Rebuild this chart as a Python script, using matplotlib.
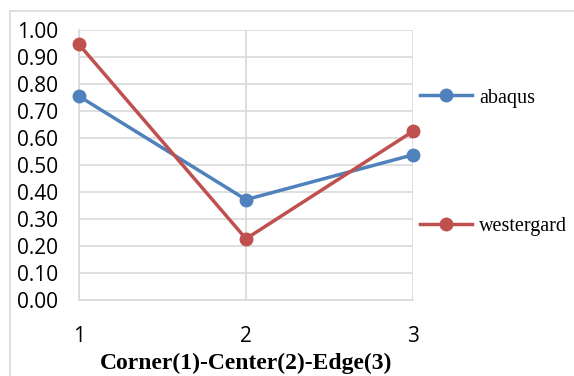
import matplotlib.pyplot as plt
from matplotlib.patches import Rectangle

positions = [1, 2, 3]
abaqus = [0.755, 0.372, 0.538]
westergard = [0.947, 0.227, 0.625]
y_ticks = [0.0, 0.1, 0.2, 0.3, 0.4, 0.5, 0.6, 0.7, 0.8, 0.9, 1.0]

fig = plt.figure(figsize=(5.74, 3.76), dpi=100)
ax = fig.add_axes([0.1376, 0.202, 0.5819, 0.718])

grid_col = '#d9d9d9'
ax.plot(positions, abaqus, color='#4f81bd', lw=2.5, marker='o', ms=9,
        label='abaqus', clip_on=False, zorder=3)
ax.plot(positions, westergard, color='#c0504d', lw=2.5, marker='o', ms=9,
        label='westergard', clip_on=False, zorder=3)

tick_font = {'family': 'Open Sans', 'size': 15}
ax.set_xlim(1, 3)
ax.set_ylim(0, 1)
ax.set_xticks(positions)
ax.set_xticklabels([str(p) for p in positions], fontdict=tick_font)
ax.set_yticks(y_ticks)
ax.set_yticklabels([f'{v:.2f}' for v in y_ticks], fontdict=tick_font)
ax.grid(True, color=grid_col, lw=1.2)
for s in ax.spines.values():
    s.set_visible(False)
ax.spines['left'].set_visible(True)
ax.spines['left'].set_color(grid_col)
ax.spines['left'].set_linewidth(1.2)
ax.spines['bottom'].set_visible(True)
ax.spines['bottom'].set_color(grid_col)
ax.spines['bottom'].set_linewidth(1.2)
ax.tick_params(length=0)
ax.tick_params(axis='y', pad=15)
ax.tick_params(axis='x', pad=19)

ax.set_xlabel('Corner(1)-Center(2)-Edge(3)', fontfamily='Liberation Serif',
              fontweight='bold', fontsize=17, labelpad=4)

fig.legend(loc='upper left', bbox_to_anchor=(0.700, 0.813), frameon=False,
           prop={'family': 'Liberation Serif', 'size': 14.5},
           labelspacing=5.45, handlelength=2.6, handletextpad=0.33)

fig.patches.append(Rectangle((10 / 574, -0.1), 2, (376 - 11) / 376 + 0.1,
                             transform=fig.transFigure, fill=False,
                             edgecolor=grid_col, lw=1.2))

fig.savefig('out.png', dpi=100)
